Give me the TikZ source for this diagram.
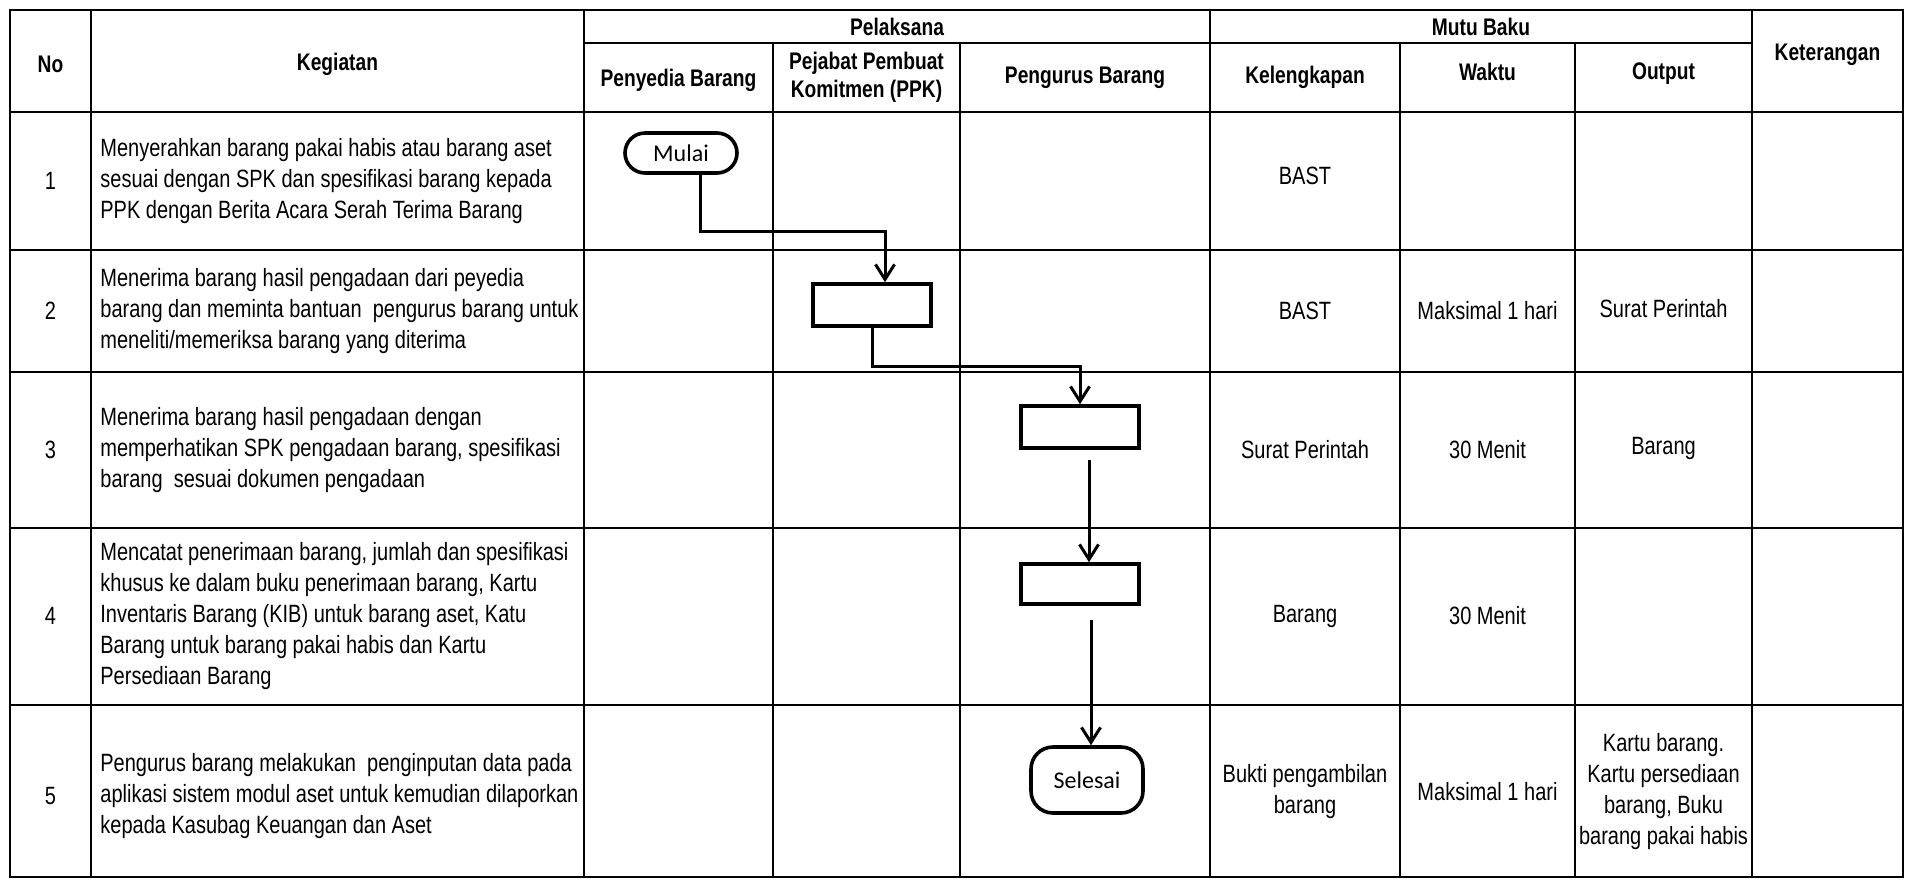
\documentclass[tikz,border=0pt]{standalone}
\usepackage{fontspec}
\setmainfont[FakeStretch=0.8]{Liberation Sans}
\newfontfamily\calibri{Carlito}
\usepackage{tikz}
\usetikzlibrary{arrows.meta,positioning,shapes.misc}

\begin{document}
\begin{tikzpicture}[
    x=0.5pt, y=-0.5pt,
    grid/.style={line width=0.9pt},
    head/.style={font=\bfseries\fontsize{12}{14}\selectfont, align=center, inner sep=1pt},
    cell/.style={font=\fontsize{12.5}{15.5}\selectfont, align=center, inner sep=1pt},
    keg/.style={font=\fontsize{12.5}{15.5}\selectfont, align=left, anchor=west, inner sep=1pt},
    act/.style={draw, line width=1.8pt, minimum width=59pt, minimum height=21pt},
    term/.style={draw, line width=1.8pt, rounded rectangle, inner sep=0pt,
                 font=\calibri\fontsize{12}{14}\selectfont},
    endbox/.style={draw, line width=1.8pt, rounded corners=11pt, inner sep=0pt,
                 font=\calibri\fontsize{12}{14}\selectfont},
    flow/.style={-{Straight Barb[length=7.5pt,width=9.5pt,line width=1.5pt]}, line width=1.5pt}
]
    \path[fill=white, use as bounding box] (0,0) rectangle (1907,880);

    % table grid
    \draw[grid] (10,10) rectangle (1903,877);
    \draw[grid] (584,43) -- (1752,43);
    \draw[grid] (10,112) -- (1903,112);
    \draw[grid] (10,250) -- (1903,250);
    \draw[grid] (10,372) -- (1903,372);
    \draw[grid] (10,528) -- (1903,528);
    \draw[grid] (10,705) -- (1903,705);
    \draw[grid] (91,10) -- (91,877);
    \draw[grid] (584,10) -- (584,877);
    \draw[grid] (1210,10) -- (1210,877);
    \draw[grid] (1752,10) -- (1752,877);
    \draw[grid] (773,43) -- (773,877);
    \draw[grid] (960,43) -- (960,877);
    \draw[grid] (1400,43) -- (1400,877);
    \draw[grid] (1575,43) -- (1575,877);

    % header
    \node[head] (hno) at (50.5,64) {No};
    \node[head] (hkeg) at (337.5,64) {Kegiatan};
    \node[head] (hpel) at (897,26.5) {Pelaksana};
    \node[head] (hmutu) at (1481,26.5) {Mutu Baku};
    \node[head] (hket) at (1827.5,55) {Keterangan};
    \node[head] (hpeny) at (678.5,80) {Penyedia Barang};
    \node[head] (hppk) at (866.5,77.5) {Pejabat Pembuat\\Komitmen (PPK)};
    \node[head] (hpeng) at (1085,77.5) {Pengurus Barang};
    \node[head] (hlengk) at (1305,77.5) {Kelengkapan};
    \node[head] (hwaktu) at (1487.5,72) {Waktu};
    \node[head] (hout) at (1663.5,74) {Output};

    % rows
    \node[cell] (no1) at (50.5,181) {1};
    \node[keg] (keg1) at (98,181) {Menyerahkan barang pakai habis atau barang aset\\sesuai dengan SPK dan spesifikasi barang kepada\\PPK dengan Berita Acara Serah Terima Barang};
    \node[cell] (lengk1) at (1305,176) {BAST};

    \node[cell] (no2) at (50.5,311) {2};
    \node[keg] (keg2) at (98,311) {Menerima barang hasil pengadaan dari peyedia\\barang dan meminta bantuan\ \ pengurus barang untuk\\meneliti/memeriksa barang yang diterima};
    \node[cell] (lengk2) at (1305,311) {BAST};
    \node[cell] (waktu2) at (1487.5,311) {Maksimal 1 hari};
    \node[cell] (out2) at (1663.5,309) {Surat Perintah};

    \node[cell] (no3) at (50.5,450) {3};
    \node[keg] (keg3) at (98,450) {Menerima barang hasil pengadaan dengan\\memperhatikan SPK pengadaan barang, spesifikasi\\barang\ \ sesuai dokumen pengadaan};
    \node[cell] (lengk3) at (1305,450) {Surat Perintah};
    \node[cell] (waktu3) at (1487.5,450) {30 Menit};
    \node[cell] (out3) at (1663.5,448) {Barang};

    \node[cell] (no4) at (50.5,616) {4};
    \node[keg] (keg4) at (98,616) {Mencatat penerimaan barang, jumlah dan spesifikasi\\khusus ke dalam buku penerimaan barang, Kartu\\Inventaris Barang (KIB) untuk barang aset, Katu\\Barang untuk barang pakai habis dan Kartu\\Persediaan Barang};
    \node[cell] (lengk4) at (1305,616) {Barang};
    \node[cell] (waktu4) at (1487.5,616) {30 Menit};

    \node[cell] (no5) at (50.5,796) {5};
    \node[keg] (keg5) at (98,796) {Pengurus barang melakukan\ \ penginputan data pada\\aplikasi sistem modul aset untuk kemudian dilaporkan\\kepada Kasubag Keuangan dan Aset};
    \node[cell] (lengk5) at (1305,792) {Bukti pengambilan\\barang};
    \node[cell] (waktu5) at (1487.5,792) {Maksimal 1 hari};
    \node[cell] (out5) at (1663.5,792) {Kartu barang.\\Kartu persediaan\\barang, Buku\\barang pakai habis};

    % flow
    \node[term, minimum width=56pt, minimum height=20pt] (mulai) at (681,153) {Mulai};
    \node[act] (ppk2) at (872,305) {};
    \node[act] (peng3) at (1080,427) {};
    \node[act, minimum height=20pt] (peng4) at (1080,584) {};
    \node[endbox, minimum width=56pt, minimum height=33pt] (selesai) at (1087,780) {Selesai};

    \draw[flow] ([xshift=9.5pt]mulai.south) -- ++(0,57) -| ([xshift=6.5pt]ppk2.north);
    \draw[flow] (ppk2.south) -- ++(0,39) -| (peng3.north);
    \draw[flow, shorten <=5pt] ([xshift=4.5pt]peng3.south) -- ([xshift=4.5pt]peng4.north);
    \draw[flow, shorten <=7pt] ([xshift=5.5pt]peng4.south) -- ([xshift=5.5pt]peng4.south |- selesai.north);
\end{tikzpicture}
\end{document}
